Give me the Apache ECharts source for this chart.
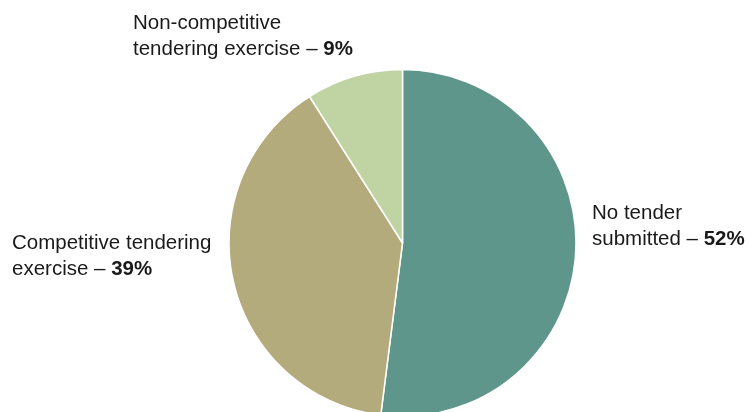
<!DOCTYPE html>
<html>
<head>
<meta charset="utf-8">
<script src="https://cdn.jsdelivr.net/npm/echarts@6/dist/echarts.min.js"></script>
<style>
  html, body { margin: 0; padding: 0; background: #fff; }
  #chart { width: 749px; height: 412px; }
</style>
</head>
<body>
<div id="chart"></div>
<script>
// data
var names = ['No tender\nsubmitted', 'Competitive tendering\nexercise', 'Non-competitive\ntendering exercise'];
var values = [52, 39, 9];
var colors = ['#5f968b', '#b3ab7c', '#bfd4a2'];

// label anchor (left, top) for each slice
var labelPos = [[592, 201], [12, 231], [133, 11]];

var myChart = echarts.init(document.getElementById('chart'));

var pieData = [];
for (var i = 0; i < values.length; i++) {
    pieData.push({ name: names[i], value: values[i], itemStyle: { color: colors[i] } });
}

var option = {
    backgroundColor: '#fff',
    animation: false,
    series: [{
        type: 'pie',
        center: [402.5, 243],
        radius: 173.5,
        startAngle: 90,
        clockwise: true,
        itemStyle: {
            borderColor: '#fff',
            borderWidth: 1.5
        },
        label: {
            show: true,
            position: 'outside',
            overflow: 'none',
            width: 400,
            formatter: function (p) {
                return '{n|' + p.name.replace('\n', '}\n{n|') + ' – }{b|' + p.value + '%}';
            },
            rich: {
                n: { fontFamily: 'Liberation Sans', fontSize: 20.5, color: '#1a1a1a', lineHeight: 25.5 },
                b: { fontFamily: 'Liberation Sans', fontSize: 20.5, fontWeight: 'bold', color: '#1a1a1a', lineHeight: 25.5 }
            }
        },
        labelLine: { show: false },
        labelLayout: function (params) {
            var p = labelPos[params.dataIndex];
            return { x: p[0], y: p[1], align: 'left', verticalAlign: 'top' };
        },
        emphasis: { disabled: true },
        data: pieData
    }]
};

myChart.setOption(option);
</script>
</body>
</html>
